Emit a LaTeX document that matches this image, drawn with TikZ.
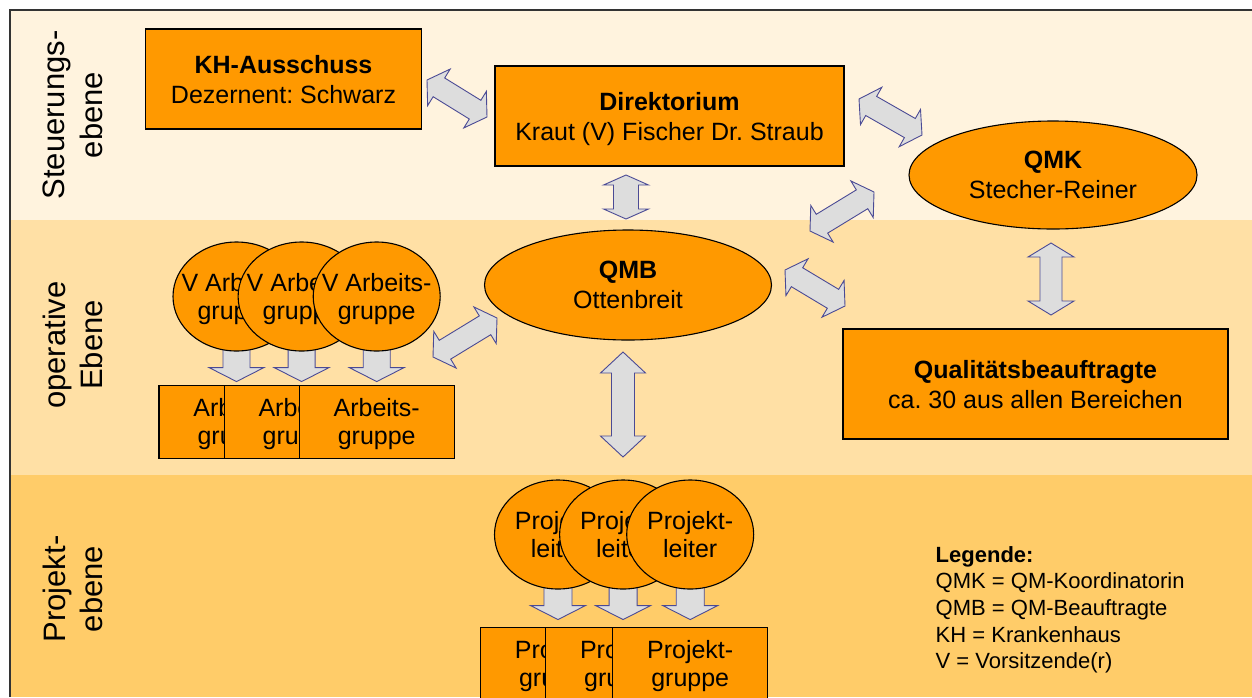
\documentclass[tikz,border=0pt]{standalone}
\usepackage{fontspec}
\setmainfont{Liberation Sans}
\usetikzlibrary{shapes.geometric, positioning, backgrounds, calc}
\frenchspacing

\definecolor{qmorange}{HTML}{FF9900}
\definecolor{bandtop}{HTML}{FFF3DE}
\definecolor{bandmid}{HTML}{FFE0A5}
\definecolor{bandlow}{HTML}{FFCC69}
\definecolor{arrowfill}{HTML}{DDDDDD}
\definecolor{arrowline}{HTML}{4A4A95}
\definecolor{framegray}{HTML}{333333}

\tikzstyle{box} = [draw, line width=1.1pt, rectangle, fill=qmorange, minimum height=100pt, text depth=0pt, align=center, font=\fontsize{25}{30}\selectfont]
\tikzstyle{oval} = [draw, line width=1.1pt, ellipse, fill=qmorange, text depth=0pt, align=center, font=\fontsize{25}{30}\selectfont]
\tikzstyle{lead} = [draw, line width=1.1pt, ellipse, fill=qmorange, minimum width=127pt, minimum height=109pt, inner sep=-12pt, text depth=0pt, align=center, font=\fontsize{25}{28.5}\selectfont]
\tikzstyle{team} = [draw, line width=1.1pt, rectangle, fill=qmorange, minimum width=155pt, minimum height=73pt, text depth=0pt, align=center, font=\fontsize{25}{28.5}\selectfont]
\tikzstyle{side} = [rotate=90, align=center, font=\fontsize{31}{37.5}\selectfont]
\tikzstyle{legendtext} = [align=left, inner sep=0pt, font=\fontsize{22}{26.7}\selectfont]
\tikzstyle{blockarr} = [draw=arrowline, fill=arrowfill, line width=0.9pt, line join=miter]

\pgfdeclarelayer{under}
\pgfsetlayers{background,under,main}

% angle and length between two points
\newcommand\getarrow[2]{%
  \path (#1) coordinate (arrA) (#2) coordinate (arrB);
  \pgfmathanglebetweenpoints{\pgfpointanchor{arrA}{center}}{\pgfpointanchor{arrB}{center}}%
  \let\arrang\pgfmathresult
  \pgfpointdiff{\pgfpointanchor{arrA}{center}}{\pgfpointanchor{arrB}{center}}%
  \pgfgetlastxy{\arrdx}{\arrdy}%
  \pgfmathsetmacro\arrlen{veclen(\arrdx,\arrdy)}}
% from, to, shaft, head width, head length
\newcommand\bothways[5]{\getarrow{#1}{#2}%
  \draw[blockarr, shift={(arrA)}, rotate=\arrang] (0,0) -- (#5,#4/2) -- (#5,#3/2) -- (\arrlen-#5,#3/2) -- (\arrlen-#5,#4/2) -- (\arrlen,0) -- (\arrlen-#5,-#4/2) -- (\arrlen-#5,-#3/2) -- (#5,-#3/2) -- (#5,-#4/2) -- cycle;}
\newcommand\oneway[5]{\getarrow{#1}{#2}%
  \draw[blockarr, shift={(arrA)}, rotate=\arrang] (0,#3/2) -- (\arrlen-#5,#3/2) -- (\arrlen-#5,#4/2) -- (\arrlen,0) -- (\arrlen-#5,-#4/2) -- (\arrlen-#5,-#3/2) -- (0,-#3/2) -- cycle;}

\begin{document}
\begin{tikzpicture}[x=1pt, y=-1pt]
	\useasboundingbox (0,0) rectangle (1252,697);

	% ebenen
	\begin{pgfonlayer}{background}
		\fill[bandtop] (10,10) rectangle (1252,220);
		\fill[bandmid] (10,220) rectangle (1252,475);
		\fill[bandlow] (10,475) rectangle (1252,697);
		\draw[framegray, line width=2.5pt] (10,697) -- (10,10) -- (1252,10);
	\end{pgfonlayer}

	\node [side] (steuer) at (73,115) {Steuerungs-\\ebene};
	\node [side] (operativ) at (73,345) {operative\\Ebene};
	\node [side] (projekt) at (73,589) {Projekt-\\ebene};

	\node [box, minimum width=276pt] (kh) at (283.5,79) {{\bfseries KH-Ausschuss}\\Dezernent: Schwarz};
	\node [box, minimum width=349pt] (dir) at (669.5,116) {{\bfseries Direktorium}\\Kraut (V) Fischer Dr. Straub};
	\node [oval, minimum width=288pt, minimum height=108pt] (qmk) at (1053,175) {{\bfseries QMK}\\Stecher-Reiner};
	\node [oval, minimum width=287pt, minimum height=110pt] (qmb) at (628,285) {{\bfseries QMB}\\Ottenbreit};
	\node [box, minimum width=385pt, minimum height=110pt] (qb) at (1035.5,384) {{\bfseries Qualitätsbeauftragte}\\ca. 30 aus allen Bereichen};

	\node [lead] (va1) at (236.5,296.5) {V Arbeits-\\gruppe};
	\node [lead, right=-63pt of va1] (va2) {V Arbeits-\\gruppe};
	\node [lead, right=-53pt of va2] (va3) {V Arbeits-\\gruppe};
	\node [team, below=33pt of va1] (ag1) {Arbeits-\\gruppe};
	\node [team, below=33pt of va2] (ag2) {Arbeits-\\gruppe};
	\node [team, below=33pt of va3] (ag3) {Arbeits-\\gruppe};

	\node [lead] (pl1) at (558,534.5) {Projekt-\\leiter};
	\node [lead, right=-63pt of pl1] (pl2) {Projekt-\\leiter};
	\node [lead, right=-61pt of pl2] (pl3) {Projekt-\\leiter};
	\node [team, below=37pt of pl1] (pg1) {Projekt-\\gruppe};
	\node [team, below=37pt of pl2] (pg2) {Projekt-\\gruppe};
	\node [team, below=37pt of pl3] (pg3) {Projekt-\\gruppe};

	\node [legendtext, anchor=north west] (legende) at (935.5,546) {{\bfseries Legende:}\\QMK = QM-Koordinatorin\\QMB = QM-Beauftragte\\KH = Krankenhaus\\V = Vorsitzende(r)};

	% pfeile
	\begin{pgfonlayer}{under}
		\oneway{va1}{$(ag1.north)+(0,-3)$}{27}{55}{14}
		\oneway{va2}{$(ag2.north)+(0,-3)$}{27}{55}{14}
		\oneway{va3}{$(ag3.north)+(0,-3)$}{27}{55}{14}
		\oneway{pl1}{$(pg1.north)+(0,-7)$}{28}{55}{14}
		\oneway{pl2}{$(pg2.north)+(0,-7)$}{28}{55}{14}
		\oneway{pl3}{$(pg3.north)+(0,-7)$}{28}{55}{14}
	\end{pgfonlayer}

	\coordinate (kh-dir) at (427,80);
	\coordinate (dir-kh) at (487,117);
	\coordinate (dir-qmk) at (859,99);
	\coordinate (qmk-dir) at (922,135);
	\coordinate (dir-qmb) at (626,175);
	\coordinate (qmb-dir) at (626,219);
	\coordinate (qmb-qmk) at (810,231);
	\coordinate (qmk-qmb) at (874,192);
	\coordinate (qmb-qb) at (785,270);
	\coordinate (qb-qmb) at (845,306);
	\coordinate (qmb-va) at (497,318);
	\coordinate (va-qmb) at (433,357);
	\coordinate (qmb-pl) at (623,352);
	\coordinate (pl-qmb) at (623,457);
	\coordinate (qmk-qb) at (1051,243);
	\coordinate (qb-qmk) at (1051,315);

	\bothways{kh-dir}{dir-kh}{22}{43}{14}
	\bothways{dir-qmk}{qmk-dir}{22}{43}{14}
	\bothways{dir-qmb}{qmb-dir}{25}{45}{10}
	\bothways{qmb-qmk}{qmk-qmb}{22}{43}{14}
	\bothways{qmb-qb}{qb-qmb}{22}{43}{14}
	\bothways{qmb-va}{va-qmb}{22}{43}{14}
	\bothways{qmb-pl}{pl-qmb}{23}{45}{21}
	\bothways{qmk-qb}{qb-qmk}{22}{46}{14}
\end{tikzpicture}
\end{document}
